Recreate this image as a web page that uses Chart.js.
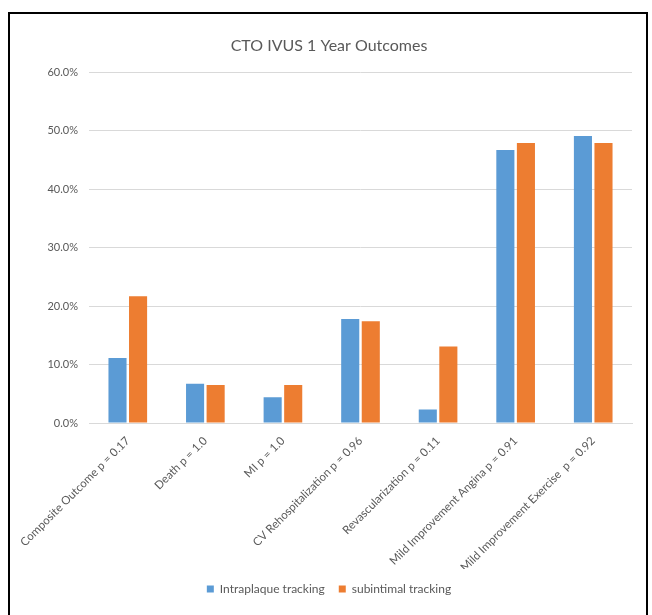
<!DOCTYPE html>
<html>
<head>
<meta charset="utf-8">
<script src="https://cdn.jsdelivr.net/npm/chart.js@4/dist/chart.umd.min.js"></script>
<style>
  html, body { margin: 0; padding: 0; background: #fff; overflow: hidden; }
  #wrap { position: absolute; left: 0; top: 0; width: 652px; height: 615px; }
  #frame { position: absolute; left: 8px; top: 12px; width: 636px; height: 640px;
           border: 2px solid #000; pointer-events: none; }
</style>
</head>
<body>
<div id="wrap"><canvas id="chart"></canvas></div>
<div id="frame"></div>
<script>
'use strict';

// categories (p-values are part of the label)
const categories = [
  'Composite Outcome p = 0.17',
  'Death p = 1.0',
  'MI p = 1.0',
  'CV Rehospitalization p = 0.96',
  'Revascularization p = 0.11',
  'Mild Improvement Angina p = 0.91',
  'Mild Improvement Exercise  p = 0.92'
];
// percent of patients
const intraplaque = [11.1, 6.7, 4.4, 17.8, 2.3, 46.7, 49.1];
const subintimal = [21.7, 6.5, 6.5, 17.4, 13.1, 47.9, 47.9];
const yMin = 0, yMax = 60, yStep = 10;

const textColor = '#595959';
const gridColor = '#d9d9d9';
Chart.defaults.font.family = 'Lato, "Open Sans", sans-serif';

const ctx = document.getElementById('chart').getContext('2d');
const chart = new Chart(ctx, {
  type: 'bar',
  data: {
    labels: categories,
    datasets: [
      { label: 'Intraplaque tracking', data: intraplaque, backgroundColor: '#5b9bd5' },
      { label: 'subintimal tracking', data: subintimal, backgroundColor: '#ed7d31' }
    ]
  },
  options: {
    responsive: true,
    maintainAspectRatio: false,
    animation: false,
    categoryPercentage: 0.53,
    barPercentage: 0.88,
    layout: { padding: { top: 30, left: 26, right: 20, bottom: 10 } },
    plugins: {
      title: {
        display: true,
        text: 'CTO IVUS 1 Year Outcomes',
        color: textColor,
        font: { size: 16, weight: 'normal' },
        padding: { top: 6, bottom: 17 }
      },
      legend: {
        position: 'bottom',
        labels: {
          color: textColor,
          font: { size: 12 },
          boxWidth: 7,
          boxHeight: 7,
          padding: 14
        }
      },
      tooltip: { enabled: false }
    },
    scales: {
      x: {
        grid: { display: false, drawTicks: false },
        border: { display: true, color: gridColor },
        ticks: {
          color: textColor,
          font: { size: 11.5 },
          minRotation: 45,
          maxRotation: 45,
          autoSkip: false,
          padding: 11
        },
        afterFit: function (scale) { scale.height = 146; }
      },
      y: {
        min: yMin,
        max: yMax,
        grid: { color: gridColor, drawTicks: false },
        border: { display: false },
        ticks: {
          stepSize: yStep,
          color: textColor,
          font: { size: 11 },
          padding: 11,
          callback: function (v) { return v.toFixed(1) + '%'; }
        },
        afterFit: function (scale) { scale.width = 63; }
      }
    }
  }
});
</script>
</body>
</html>
